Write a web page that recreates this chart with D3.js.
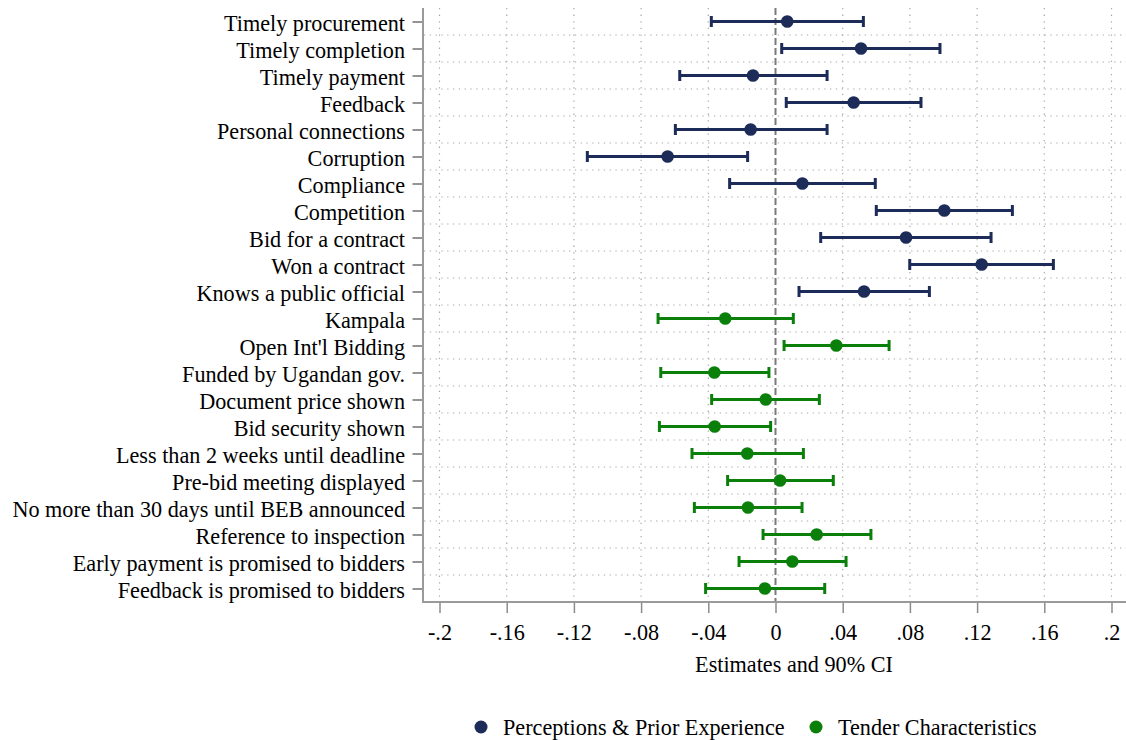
<!DOCTYPE html>
<html>
<head>
<meta charset="utf-8">
<script src="https://cdn.jsdelivr.net/npm/d3@7/dist/d3.min.js"></script>
<style>
  html, body { margin: 0; padding: 0; background: #ffffff; }
  svg { display: block; }
  text { font-family: "Liberation Serif", "Times New Roman", serif; fill: #000; }
</style>
</head>
<body>
<svg id="chart" width="1126" height="740"></svg>
<script>
// ---------------- data ----------------
const labels = [
  "Timely procurement",
  "Timely completion",
  "Timely payment",
  "Feedback",
  "Personal connections",
  "Corruption",
  "Compliance",
  "Competition",
  "Bid for a contract",
  "Won a contract",
  "Knows a public official",
  "Kampala",
  "Open Int'l Bidding",
  "Funded by Ugandan gov.",
  "Document price shown",
  "Bid security shown",
  "Less than 2 weeks until deadline",
  "Pre-bid meeting displayed",
  "No more than 30 days until BEB announced",
  "Reference to inspection",
  "Early payment is promised to bidders",
  "Feedback is promised to bidders"
];
const estimates = [
  0.0070, 0.0509, -0.0134, 0.0465, -0.0148, -0.0642, 0.0160, 0.1005, 0.0777, 0.1227, 0.0527,
  -0.0299, 0.0362, -0.0364, -0.0058, -0.0362, -0.0168, 0.0027, -0.0164, 0.0245, 0.0100, -0.0063
];
const lower = [
  -0.0382, 0.0037, -0.0570, 0.0064, -0.0596, -0.1120, -0.0273, 0.0600, 0.0269, 0.0799, 0.0140,
  -0.0699, 0.0051, -0.0683, -0.0380, -0.0691, -0.0497, -0.0285, -0.0483, -0.0074, -0.0217, -0.0416
];
const upper = [
  0.0523, 0.0979, 0.0307, 0.0866, 0.0307, -0.0166, 0.0594, 0.1410, 0.1283, 0.1654, 0.0916,
  0.0106, 0.0676, -0.0039, 0.0261, -0.0029, 0.0166, 0.0344, 0.0158, 0.0568, 0.0420, 0.0293
];
const groupIndex = [0,0,0,0,0,0,0,0,0,0,0, 1,1,1,1,1,1,1,1,1,1,1];
const groupNames = ["Perceptions & Prior Experience", "Tender Characteristics"];
const groupColors = ["#1c2b57", "#0a800a"];
const tickValues = [-0.2, -0.16, -0.12, -0.08, -0.04, 0, 0.04, 0.08, 0.12, 0.16, 0.2];
const tickLabels = ["-.2", "-.16", "-.12", "-.08", "-.04", "0", ".04", ".08", ".12", ".16", ".2"];
const xTitle = "Estimates and 90% CI";

// ---------------- layout ----------------
const svg = d3.select("#chart");
const plotLeft = 423, plotRight = 1126, plotTop = 8, plotBottom = 602;
const FS = 24, SX = 0.925; // tall, slightly condensed serif text

const x = d3.scaleLinear().domain([-0.2, 0.2]).range([439.5, 1111.5]);
const y = d3.scaleBand().domain(d3.range(labels.length)).range([plotTop, plotBottom]).padding(0);
const yc = i => y(i) + y.bandwidth() / 2;

const rows = labels.map((l, i) => ({
  label: l, est: estimates[i], lo: lower[i], hi: upper[i], g: groupIndex[i], i
}));

// gridlines - horizontal (between rows)
svg.append("g").selectAll("line")
  .data(d3.range(1, labels.length))
  .join("line")
  .attr("x1", plotLeft + 1).attr("x2", plotRight)
  .attr("y1", d => y(d)).attr("y2", d => y(d))
  .attr("stroke", "#a8a8a8").attr("stroke-width", 1.2)
  .attr("stroke-dasharray", "1.3,4.5");

// gridlines - vertical (at ticks, except zero)
svg.append("g").selectAll("line")
  .data(tickValues.filter(v => v !== 0))
  .join("line")
  .attr("x1", d => x(d)).attr("x2", d => x(d))
  .attr("y1", plotTop).attr("y2", plotBottom)
  .attr("stroke", "#a8a8a8").attr("stroke-width", 1.2)
  .attr("stroke-dasharray", "1.3,5.3");

// zero reference line
svg.append("line")
  .attr("x1", x(0)).attr("x2", x(0))
  .attr("y1", plotTop).attr("y2", plotBottom)
  .attr("stroke", "#7a7a7a").attr("stroke-width", 2)
  .attr("stroke-dasharray", "7,3");

// x axis
const xAxis = d3.axisBottom(x)
  .tickValues(tickValues)
  .tickFormat((d, i) => tickLabels[i])
  .tickSize(11)
  .tickPadding(10);
const gx = svg.append("g").attr("transform", `translate(0,${plotBottom})`).call(xAxis);
gx.select(".domain").remove();
gx.selectAll(".tick line").attr("stroke", "#8c8c8c").attr("stroke-width", 1.5);
gx.selectAll(".tick text")
  .style("font-size", FS + "px").attr("fill", "#000")
  .style("font-family", "'Liberation Serif', 'Times New Roman', serif")
  .attr("transform", `scale(${SX},1)`);
svg.append("line")
  .attr("x1", plotLeft - 1).attr("x2", plotRight)
  .attr("y1", plotBottom).attr("y2", plotBottom)
  .attr("stroke", "#9a9a9a").attr("stroke-width", 2);

// y axis
const yAxis = d3.axisLeft(d3.scalePoint().domain(d3.range(labels.length)).range([yc(0), yc(labels.length - 1)]))
  .tickFormat(i => labels[i])
  .tickSize(10)
  .tickPadding(7);
const gy = svg.append("g").attr("transform", `translate(${plotLeft - 0.5},0)`).call(yAxis);
gy.select(".domain").remove();
gy.selectAll(".tick line").attr("stroke", "#707070").attr("stroke-width", 1.5);
gy.selectAll(".tick text")
  .style("font-size", FS + "px").attr("fill", "#000").attr("dy", "0.36em")
  .style("font-family", "'Liberation Serif', 'Times New Roman', serif")
  .attr("x", -17.5 / SX)
  .attr("transform", `scale(${SX},1)`);
svg.append("line")
  .attr("x1", plotLeft).attr("x2", plotLeft)
  .attr("y1", plotTop).attr("y2", plotBottom + 1)
  .attr("stroke", "#9a9a9a").attr("stroke-width", 2);

// x title
svg.append("text")
  .attr("x", 794 / SX).attr("y", 672)
  .attr("transform", `scale(${SX},1)`)
  .attr("text-anchor", "middle")
  .style("font-size", FS + "px")
  .text(xTitle);

// CI lines
const marks = svg.append("g");
marks.selectAll("line.ci")
  .data(rows).join("line").attr("class", "ci")
  .attr("x1", d => x(d.lo)).attr("x2", d => x(d.hi))
  .attr("y1", d => yc(d.i)).attr("y2", d => yc(d.i))
  .attr("stroke", d => groupColors[d.g]).attr("stroke-width", 3);
// caps
marks.selectAll("line.caplo")
  .data(rows).join("line").attr("class", "caplo")
  .attr("x1", d => x(d.lo)).attr("x2", d => x(d.lo))
  .attr("y1", d => yc(d.i) - 5.5).attr("y2", d => yc(d.i) + 5.5)
  .attr("stroke", d => groupColors[d.g]).attr("stroke-width", 3);
marks.selectAll("line.caphi")
  .data(rows).join("line").attr("class", "caphi")
  .attr("x1", d => x(d.hi)).attr("x2", d => x(d.hi))
  .attr("y1", d => yc(d.i) - 5.5).attr("y2", d => yc(d.i) + 5.5)
  .attr("stroke", d => groupColors[d.g]).attr("stroke-width", 3);
// points
marks.selectAll("circle")
  .data(rows).join("circle")
  .attr("cx", d => x(d.est)).attr("cy", d => yc(d.i))
  .attr("r", 6.3)
  .attr("fill", d => groupColors[d.g]);

// legend
const legendItems = [
  { name: groupNames[0], color: groupColors[0], cx: 481, tx: 503 },
  { name: groupNames[1], color: groupColors[1], cx: 816, tx: 838 }
];
const lg = svg.append("g");
lg.selectAll("circle").data(legendItems).join("circle")
  .attr("cx", d => d.cx).attr("cy", 727).attr("r", 6.5).attr("fill", d => d.color);
lg.selectAll("text").data(legendItems).join("text")
  .attr("x", d => d.tx / SX).attr("y", 735)
  .attr("transform", `scale(${SX},1)`)
  .style("font-size", FS + "px")
  .text(d => d.name);
</script>
</body>
</html>
